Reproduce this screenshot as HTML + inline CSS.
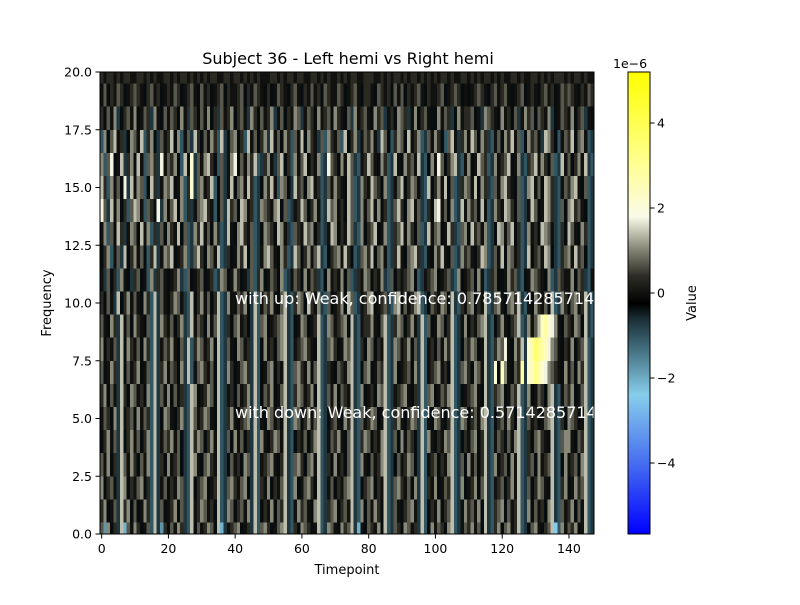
<!DOCTYPE html>
<html><head><meta charset="utf-8"><style>
body{margin:0;background:#fff;font-family:"Liberation Sans","DejaVu Sans",sans-serif}
text{font-family:"DejaVu Sans","Liberation Sans",sans-serif}
</style></head><body>
<svg id="c" width="800" height="600" xmlns="http://www.w3.org/2000/svg">
<defs><clipPath id="pc"><rect x="100" y="72" width="494" height="462"/></clipPath>
<linearGradient id="cbg" x1="0" y1="1" x2="0" y2="0"></linearGradient></defs>
<g id="cells" clip-path="url(#pc)" shape-rendering="crispEdges"></g>
<g clip-path="url(#pc)">
<text x="235" y="304" font-size="16" fill="#fff">with up: Weak, confidence: 0.7857142857142857</text>
<text x="235" y="418" font-size="16" fill="#fff">with down: Weak, confidence: 0.5714285714285714</text>
</g>
<rect x="100" y="72" width="494" height="462" fill="none" stroke="#000" stroke-width="1"/>
<g id="axes" font-size="12.5" fill="#000"></g>
<text x="348" y="64" font-size="16" text-anchor="middle">Subject 36 - Left hemi vs Right hemi</text>
<text x="347" y="574" font-size="13" text-anchor="middle">Timepoint</text>
<text transform="translate(51,303) rotate(-90)" font-size="13" text-anchor="middle">Frequency</text>
<rect x="628" y="72" width="22" height="462" fill="url(#cbg)" stroke="#000" stroke-width="1"/>
<text x="613" y="68" font-size="12.5">1e−6</text>
<text transform="translate(696,303) rotate(-90)" font-size="13" text-anchor="middle">Value</text>
<g id="cbaxis" font-size="12.5"></g>
</svg>
<script>
const xTicks=[0,20,40,60,80,100,120,140];
const yTicks=[0,2.5,5,7.5,10,12.5,15,17.5,20];
const yTickLabels=["0.0","2.5","5.0","7.5","10.0","12.5","15.0","17.5","20.0"];
const cbTicks=[-4,-2,0,2,4];
const cbTickLabels=["−4","−2","0","2","4"];
const alphabet="ABCDEFGHIJKLMNOPQRSTU";
const stepValue=0.35;
const rows=[
"MFNJLIOEMKNLJKMHOIFLJMKNLIHOJMKLNMJOEIKLMNJKLIOHMNLJKMNOIHLJNMLJKOHINMKJNLMOIEKJMLKNJOHIMLJNMKLIOHJNKMLJNOHIKMLNKMJOIHLNJMNKLOHIJMNKJLMODHNKMLNJKOHIML",
"LNJKMIOLNJMJKNLHOIMJKLNJMIHOKLNMKLJOHINMJLMKNIOHJLKNJMLOIHKNLMKJNOHILMNJLMKOIHNJMKNLJOHIMKJLMNKIOHJLKNJLMOHIKNLMKNJOIHLMNJMKLOHINJMKLJNOIHMKLNJMKOHILN",
"NJLMKIONJLKMNJLHOIKMJLKNMIHOJLMNJKLOHIMNLKMNJIOHLKNJLKMOIHNJKMNLJOHIKMJLKMNOIHJLMNJLKOHIMNLKMJNIOHLKNJKMLOHINJKLNJMOIHKLMJLNKOHIMJLNMKJOIHLNJKNLMOHIJK",
"MKNJLIOMKNLJMKNHOILJNKLMJIHONKJMNLKOHIJMKLJNMIOHKLMNKJLOIHMNLJMNKOHILJNKLJMOIHNKJMKLNOHIJMKLNMJIOHKLMJLKNOHIMJNKMJLOIHNKLMJNKOHILMJNKLMOIHJNKLMJNOHIKL",
"JLNKMIOJLNKMJLNHOIKMLNKMJIHOLNMJLNKOHIMJNKMJLIOHNKJLNMKOIHJLKMJLNOHIKMLNKJMOIHLNMJLKNOHIMJNKMLJIOHNKJLKNMOHIJLKMNJLOIHKMLJMKNOHILJMNLKJOIHMNNKJMLOHINK",
"KMLJNIOKLMJNKMLHOIJNMKJLNIHOMKLNMKJOHILNKJLMNIOHKJNMKLJOIHNMJLNKMOHIJLMKJNLOIHMKLNMJKOHILNKJLNMIOHKJNMKJLOHINMJLMKNOIHJLMKNLJOHIMKLJKMNOIHLJNMLJKOHINM",
"LNJMKIOLJNMKLJNHOIMKNJMKLIHONJKLNMJOHIKLJMKLNIOHJMLNJKMOIHLNMKLNJOHIMKNJMLKOIHNJKLJNMOHIKLMNKJLIOHMNJKMLNOHIJKLMNKJOIHLMNJKMLOHINJKMLJNOIHKMLNJKMOHILN",
"MJKNLIOJMKLNJKMHOILNKMLJNIOHKMNLKMJOHINLJKMNLIOHJKMNJLKOIHMNLKNJMOHILKJMLKNOIHJMNJKMLOHINJKLMJNIOHKLMNKLJOHIMNLJNMKOIHQJRNKJMLSIQRTSQPNMLKJNKMJNLOHIKM",
"NJLKMIOJNLKMJNLHOIKMLNKJMIOHLNMKLNJOHIMKJNMKLIOHJNKLJMNOIHKLMNLKJOHIMNLJKNMOIHLJNMJLKOHINMKLNJMIOHKLJMKNLOHIJMLNMJKOIHLNMPKJNLOIQSUTSRPNMKJLKNJLMOHIKN",
"MKJNLIOKMJNLKJMHOINLKMJLNIHOKMLJNKMOHILJMNKLJIOHMNJKLMNOIHJKNMJKLOHINMKLMNJOIHKLLNKJMOHILNMJLNKIOHMJKNMJLOHIKNJLKMNOIHJLNKJLMOHINKMORSQPNKJMLKNMJOIHLK",
"LJMKIOJLNKMKJNLHOIMKJLNMKIHOJLNKMJLOHINKKMLNJIOHKMLNKJMOIHLNMJOLKNIHMJKLNJOMHIKLNOJKLMIHNOJMKLNOHIJMLKNMJOIHLKMNJLKOHIMNKJMNLOIHKJNLKMJOHINLJMNKLOIHJM",
"KIMJLHNKJILMJKHNILMKJKLNIHMJKLMJKLHINMJKNLJKIMHLNJKMLJNHIKMLJNKMLIHJNKLKNJMHILKNMJLKNIHMJLKLMNJHIKLMNJKLMIHNJKLMJNKHILMJJKNLMIHJKNMLKJNHIMLKKNJMLIHKNJ",
"JLNHKMIOJLNKMJHLOIKNMOJKLNHIMOLJNMKOHILJKNLOJMHIKNOMKJNLHIOMJLNKMOIHJLMNKOLJHIMNLOJMNKHILOKJMNOLIHKJNLOKJMHINLMKJLONHIMKOJNMKLHIOJLMKONJIHLMNKOLMJHINK",
"KNHMJOLIKNMJOKNHLIMJNLKOJMHINLOKMJNLHIOKJNOLKMHIJNMLJONKIHMLKOMNJLHIKONJLKOMIHNJLMOJKNHILMOKNLJMHIOKMNJKOLIHMNJOLMKNHIJONKMOJLHINKLJONMKIHLJOMKJNLHIOM",
"PMIOKNJLHMONKHMLJPINKMOJNHLIKMNOLKHJMIOLMJONKLHINMLKNOJMHIKLOMJLNKHIOMNKLJOMHINKMOKNJLHIMOLJNOKMIHLJOPKMJNHIOKNLMJOKHINLKONLJMHIKOMJKONLIHMJNOLMKJHINO",
"OLHNKMJPIOKNMHJOLIKNMOJKNHLQIMNKLOHJMIKOJMNKOLHIJNLOKHNMJIOLMJNOKLHIMKNLKJOMHINLKOMLJNHIKMOJLNMKIHOJLNKOJMHILNMKOJNLIHMKNOLKJMHINOKMJONLIHKMLNOKJMHILO",
"NHMPJKOILNJOKHMNLIPKMLNJHOKQIMKNOLJHMIKNPJMKNLOHILNKIMOJLHNKMOJLKNHIPMLJNKOMIHKLOMKJNLHIOKJNLMKOIHJNKPMJLNOIHKNJKOMLHINKLMOJKNIHLMOKNLJMHIOKMJLNKOIHMN",
"HNJMOKLIJNMKOHLNJIMKLOJNHKMIOLJMKNLHOIKMNJLHOKMJLNIOKMJNLHMKOJNLKIMHNLKMHOJLNIKMLNKIOMJHLNMJOKLNHIMKNLJHMOKILNKOMJNLIHKMJNLOKMHJNLMKIONLJHKMLOJMNKHILN",
"LJMKNIJLMKNJKMLINKJMKMLJNKIMLJMKNJLIMKLNJLMKINLJMKLNIKMJLKNMIKMLJNKLMJNLKJMINKLMKJNLMIKLJNMLIKNJLMKJJNKMLIJNKLLMJKINMLKJNKLJMIKNLMJMLKNIJKMLKNJLMIKJNL",
"KMJLKMLJKLMLKJLMKLJKLKMLJKLMKJMKLJKLMJLKKLMJLKMLKJLJKMLKJLMKJLKMKLJMLKKMLJKLMKJLLKJMLKLJMKMJLKLMKJLKKLMJKLMLJKJKLMLKJLMKLMKJKLMJKLKJLMKLJKMLMLKJLKMLKJ",
"LKLLKLKLLKKLLKLKLKKLLKLKLLKLKLKLKLLKKLLKLLKLKLKLKKKLLKLKLLKLLKKLLKLKLKKLKLKLLKKLLLKKLKLKLLKLKLLKLKLKLKLLKLKKLLKLKLKLLKLKLKKLLKLKKLLKLKLKLLLKLKLLKLKK"
];
const NS="http://www.w3.org/2000/svg";
const X0=100,X1=594,Y0=534,Y1=72,XMIN=-0.5,XMAX=147.5,YMIN=0,YMAX=20,VMIN=-5.67,VMAX=5.2;
const xs=v=>X0+(v-XMIN)/(XMAX-XMIN)*(X1-X0);
const ys=v=>Y0-(v-YMIN)/(YMAX-YMIN)*(Y0-Y1);
const cs=v=>534-(v-VMIN)/(VMAX-VMIN)*462;
const stops=[[-5.67,[0,0,255]],[-4,[70,110,240]],[-2.4,[135,206,235]],[-1.2,[60,100,115]],[-0.6,[25,45,52]],[-0.25,[0,0,0]],[0.4,[45,45,38]],[1.0,[130,130,115]],[1.8,[250,250,232]],[3,[255,255,150]],[5.2,[255,255,0]]];
function col(v){
  if(v<=stops[0][0])return `rgb(${stops[0][1]})`;
  for(let i=1;i<stops.length;i++){if(v<=stops[i][0]){const a=stops[i-1],b=stops[i],t=(v-a[0])/(b[0]-a[0]);return `rgb(${a[1].map((c,k)=>Math.round(c+(b[1][k]-c)*t)).join(',')})`;}}
  return `rgb(${stops[stops.length-1][1]})`;
}
const cells=document.getElementById('cells');
rows.forEach((s,r)=>{
  for(let i=0;i<148&&i<s.length;i++){
    const v=(alphabet.indexOf(s[i])-10)*stepValue;
    const el=document.createElementNS(NS,'rect');
    const x=xs(i-0.5),y=ys(r+0.5);
    el.setAttribute('x',x);el.setAttribute('y',y);
    el.setAttribute('width',xs(i+0.5)-x+0.3);el.setAttribute('height',ys(r-0.5)-y);
    el.setAttribute('fill',col(v));
    
    
    cells.appendChild(el);
  }
});
const g=document.getElementById('cbg');
stops.forEach(s=>{const st=document.createElementNS(NS,'stop');st.setAttribute('offset',(s[0]-VMIN)/(VMAX-VMIN));st.setAttribute('stop-color',`rgb(${s[1]})`);g.appendChild(st);});
const ax=document.getElementById('axes');
function add(p,tag,attrs,txt){const e=document.createElementNS(NS,tag);for(const k in attrs)e.setAttribute(k,attrs[k]);if(txt!==undefined)e.textContent=txt;p.appendChild(e);return e;}
xTicks.forEach(t=>{
  const l=add(ax,'line',{x1:xs(t),x2:xs(t),y1:534,y2:538.5,stroke:'#000'});
  
  
  const tx=add(ax,'text',{x:xs(t),y:553,'text-anchor':'middle'},t);
  
  
});
yTicks.forEach((t,i)=>{
  const l=add(ax,'line',{x1:95.5,x2:100,y1:ys(t),y2:ys(t),stroke:'#000'});
  
  
  const tx=add(ax,'text',{x:92,y:ys(t)+4.5,'text-anchor':'end'},yTickLabels[i]);
  
  
});
const cb=document.getElementById('cbaxis');
cbTicks.forEach((t,i)=>{
  const l=add(cb,'line',{x1:650,x2:654.5,y1:cs(t),y2:cs(t),stroke:'#000'});
  
  
  const tx=add(cb,'text',{x:657,y:cs(t)+4.5},cbTickLabels[i]);
  
  
});
</script>
</body></html>
